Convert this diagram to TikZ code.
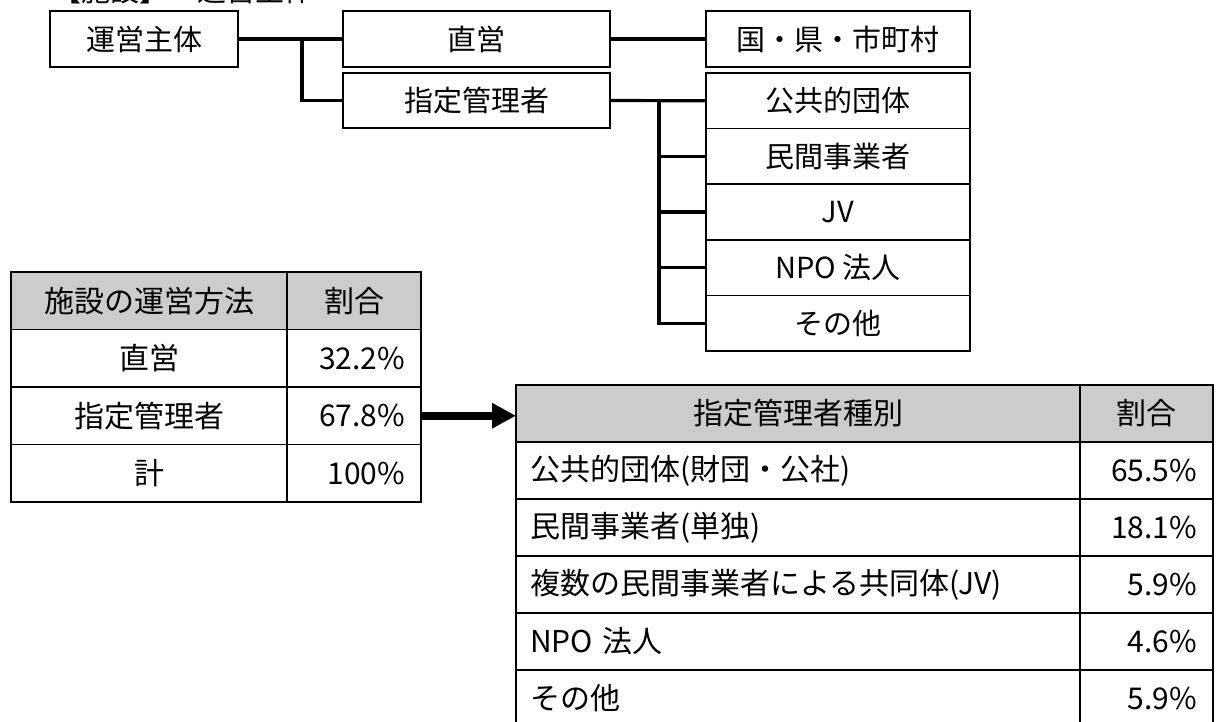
\documentclass[tikz,border=0pt]{standalone}
\usepackage{fontspec}
\setmainfont{Noto Sans CJK JP}
\usetikzlibrary{positioning,arrows.meta}

\tikzset{
  orgbox/.style={draw, line width=1.6pt, minimum width=267pt, minimum height=56pt,
    inner sep=0pt, outer sep=0pt, font=\fontsize{29}{29}\selectfont},
  kindbox/.style={orgbox, minimum width=264pt, minimum height=55.6pt},
  branch/.style={line width=3.2pt},
  cell/.style={draw, line width=1.6pt, minimum height=57pt, inner sep=0pt,
    outer sep=0pt, font=\fontsize{30}{30}\selectfont},
  head/.style={cell, fill=black!20},
  lcell/.style={cell, text width=536pt, inner xsep=14pt, align=left},
  pcell/.style={cell, inner xsep=16pt, align=right},
}

\begin{document}
\begin{tikzpicture}[x=1pt, y=-1pt]
\useasboundingbox (0,0) rectangle (1217,722);
\clip (0,0) rectangle (1217,722);
\node[anchor=base west, inner sep=0pt, font=\fontsize{29}{29}\selectfont] (title) at (52,2) {【施設】　運営主体};

\node[orgbox, minimum width=188pt] (unei) at (144,39) {運営主体};
\node[orgbox] (chokuei) at (476.5,39) {直営};
\node[orgbox, minimum height=55pt] (shitei) at (476.5,100.5) {指定管理者};
\node[kindbox, minimum height=56pt] (kuni) at (838,39) {国・県・市町村};
\node[kindbox] (k1) at (838,100.8) {公共的団体};
\node[kindbox, below=0pt of k1] (k2) {民間事業者};
\node[kindbox, below=0pt of k2] (k3) {JV};
\node[kindbox, below=0pt of k3] (k4) {NPO 法人};
\node[kindbox, below=0pt of k4] (k5) {その他};

\coordinate (j1) at (302,0);
\coordinate (j2) at (659,0);
\draw[branch] (unei.east) -- (chokuei.west);
\draw[branch] (j1 |- unei.east) |- (shitei.west);
\draw[branch] (chokuei.east) -- (kuni.west);
\draw[branch] (shitei.east) -- (k1.west);
\draw[branch] (j2 |- shitei.east) |- (k5.west);
\foreach \k in {k2,k3,k4}
  \draw[branch] (j2 |- \k.west) -- (\k.west);

\node[head, minimum width=276pt, minimum height=57.5pt, anchor=north west] (m0) at (11,272) {施設の運営方法};
\node[head, minimum width=134pt, minimum height=57.5pt, right=0pt of m0] (r0) {割合};
\foreach \t/\p [count=\i] in {直営/32.2\%, 指定管理者/67.8\%, 計/100\%} {
  \node[cell, minimum width=276pt, minimum height=57.5pt, anchor=north west] (m\i) at (11,{272+57.5*\i}) {\t};
  \node[pcell, text width=102pt, minimum height=57.5pt, right=0pt of m\i] (r\i) {\p};
}

\node[head, minimum width=564pt, anchor=north west] (n0) at (516,385) {指定管理者種別};
\node[head, minimum width=133pt, right=0pt of n0] (q0) {割合};
\foreach \t/\p [count=\i] in {公共的団体(財団・公社)/65.5\%, 民間事業者(単独)/18.1\%,
    複数の民間事業者による共同体(JV)/5.9\%, NPO 法人/4.6\%, その他/5.9\%} {
  \node[lcell, anchor=north west] (n\i) at (516,{385+57*\i}) {\t};
  \node[pcell, text width=101pt, right=0pt of n\i] (q\i) {\p};
}

\draw[line width=8pt, -{Triangle[length=24pt, width=24pt]}] (r2.east) -- (r2.east -| n0.west);
\end{tikzpicture}
\end{document}
